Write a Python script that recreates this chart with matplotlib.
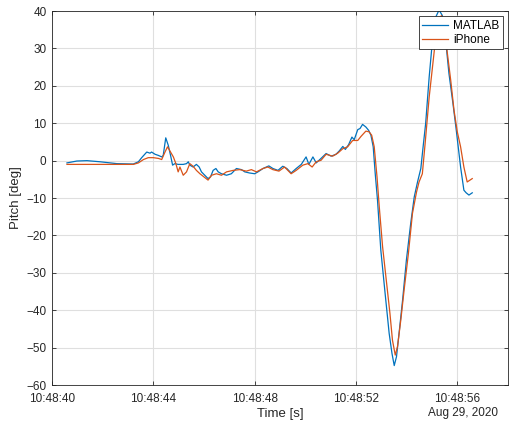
import matplotlib
matplotlib.use("Agg")
import matplotlib.pyplot as plt

plt.rcParams['font.family'] = ['Liberation Sans', 'DejaVu Sans']

# seconds after 10:48:40
t_matlab = [0.59, 0.98, 1.38, 1.90, 2.56, 3.21, 3.41, 3.54, 3.74, 3.87, 3.93, 4.07, 4.20, 4.33,
            4.39, 4.49, 4.59, 4.68, 4.76, 4.85, 4.98, 5.18, 5.31, 5.38, 5.44, 5.57, 5.70, 5.81,
            5.90, 6.03, 6.16, 6.26, 6.36, 6.47, 6.56, 6.69, 6.89, 7.08, 7.28, 7.48, 7.61, 7.80,
            8.00, 8.13, 8.33, 8.56, 8.72, 8.92, 9.11, 9.27, 9.44, 9.64, 9.84, 10.03, 10.14, 10.30,
            10.43, 10.62, 10.82, 11.02, 11.21, 11.34, 11.48, 11.58, 11.71, 11.84, 11.93, 12.07,
            12.16, 12.26, 12.39, 12.50, 12.59, 12.68, 12.76, 12.85, 12.98, 13.15, 13.31, 13.42,
            13.51, 13.60, 13.70, 13.84, 13.99, 14.16, 14.30, 14.43, 14.56, 14.65, 14.75, 14.89,
            15.02, 15.15, 15.28, 15.41, 15.54, 15.67, 15.83, 15.96, 16.13, 16.26, 16.35, 16.46,
            16.59]
pitch_matlab = [-0.6, -0.1, 0.0, -0.3, -0.8, -0.9, -0.3, 0.8, 2.3, 2.0, 2.3, 1.7, 1.4, 1.0,
                1.4, 6.1, 4.1, 1.4, -1.2, -0.8, -1.0, -1.0, -0.8, -0.3, -1.2, -1.7, -1.0, -1.7,
                -3.0, -3.9, -4.8, -4.3, -2.6, -2.1, -3.0, -3.5, -3.9, -3.5, -2.1, -2.4, -3.0, -3.3,
                -3.5, -3.0, -2.1, -1.4, -2.1, -2.6, -1.5, -2.1, -3.3, -2.1, -1.0, 1.0, -1.0, 1.0,
                -0.6, 0.6, 1.9, 1.2, 1.7, 2.6, 3.8, 3.0, 4.3, 6.3, 5.6, 8.3,
                8.6, 9.7, 9.0, 8.1, 6.8, 3.7, -3.5, -10.6, -23.9, -35.5, -46.2, -51.5,
                -54.8, -52.4, -46.2, -37.3, -26.6, -16.8, -9.7, -5.7, -2.1, 3.7, 9.9, 22.4,
                32.2, 38.4, 40.3, 38.8, 32.2, 23.3, 15.2, 8.1, -1.7, -7.9, -8.6, -9.2,
                -8.6]

t_iphone = [0.59, 3.21, 3.41, 3.61, 3.80, 4.00, 4.20, 4.33, 4.46, 4.56, 4.68, 4.79, 4.89, 4.98,
            5.05, 5.18, 5.31, 5.44, 5.57, 5.70, 5.84, 5.99, 6.16, 6.30, 6.49, 6.69, 6.89, 7.15,
            7.41, 7.67, 7.87, 8.07, 8.33, 8.52, 8.72, 8.96, 9.18, 9.44, 9.64, 9.90, 10.10, 10.27,
            10.43, 10.62, 10.82, 11.08, 11.28, 11.48, 11.67, 11.87, 12.07, 12.20, 12.39, 12.52,
            12.62, 12.72, 12.83, 12.92, 13.05, 13.21, 13.34, 13.44, 13.55, 13.64, 13.77, 13.90,
            14.07, 14.23, 14.39, 14.49, 14.62, 14.73, 14.89, 15.02, 15.15, 15.28, 15.38, 15.48,
            15.61, 15.74, 15.87, 16.00, 16.13, 16.26, 16.39, 16.59]
pitch_iphone = [-1.0, -1.0, -0.6, 0.3, 0.8, 0.8, 0.6, 0.3, 2.3, 3.7, 2.3, 1.0, -0.8, -3.0,
                -1.7, -3.9, -3.0, -0.8, -1.5, -2.6, -3.5, -4.3, -5.2, -3.9, -3.5, -3.9, -3.0, -2.6,
                -2.4, -2.8, -2.4, -3.0, -2.1, -1.7, -2.4, -2.8, -1.7, -3.5, -2.6, -1.2, -0.8, -1.7,
                -0.3, 0.1, 1.7, 1.2, 2.0, 3.2, 3.7, 5.4, 5.4, 6.5, 7.9, 7.7,
                6.8, 3.7, -4.3, -12.4, -23.0, -32.8, -40.8, -48.0, -52.0, -49.7, -42.6, -34.6,
                -24.8, -14.1, -8.4, -5.7, -3.5, 4.6, 17.0, 25.0, 33.0, 38.0, 38.8, 35.7,
                28.6, 21.5, 13.5, 7.7, 3.7, -1.7, -5.7, -4.8]

x_ticks = [0, 4, 8, 12, 16]
x_tick_labels = ['10:48:40', '10:48:44', '10:48:48', '10:48:52', '10:48:56']
y_ticks = [-60, -50, -40, -30, -20, -10, 0, 10, 20, 30, 40]

axis_color = '#262626'
fig = plt.figure(figsize=(5.10, 4.23), dpi=100)
ax = fig.add_axes([0.102, 0.0898, 0.894, 0.884])

ax.plot(t_matlab, pitch_matlab, color='#0072BD', lw=0.9, label='MATLAB')
ax.plot(t_iphone, pitch_iphone, color='#D95319', lw=0.9, label='iPhone')

ax.set_xlim(0, 18)
ax.set_ylim(-60, 40)
ax.set_xticks(x_ticks)
ax.set_xticklabels(x_tick_labels)
ax.set_yticks(y_ticks)
ax.grid(True, color='#dfdfdf', lw=0.8)
ax.set_axisbelow(True)
ax.tick_params(direction='in', length=3, width=0.6, colors=axis_color, labelsize=8.5,
               top=True, right=True, labeltop=False, labelright=False)
ax.tick_params(axis='x', pad=6)
ax.tick_params(axis='y', pad=4)
for s in ax.spines.values():
    s.set_color(axis_color)
    s.set_linewidth(0.6)

ax.set_xlabel('Time [s]', fontsize=9.5, color=axis_color, labelpad=2)
ax.set_ylabel('Pitch [deg]', fontsize=9.5, color=axis_color, labelpad=3)
fig.text(0.977, 0.024, 'Aug 29, 2020', ha='right', va='center', fontsize=8.5, color=axis_color)

leg = ax.legend(loc='upper right', fontsize=8.5, frameon=True, fancybox=False,
                borderpad=0.3, handlelength=2.2, handletextpad=0.4, labelspacing=0.15,
                borderaxespad=0.45)
leg.get_frame().set_edgecolor(axis_color)
leg.get_frame().set_linewidth(0.6)
leg.get_frame().set_alpha(1.0)

fig.savefig('out.png', dpi=100)
